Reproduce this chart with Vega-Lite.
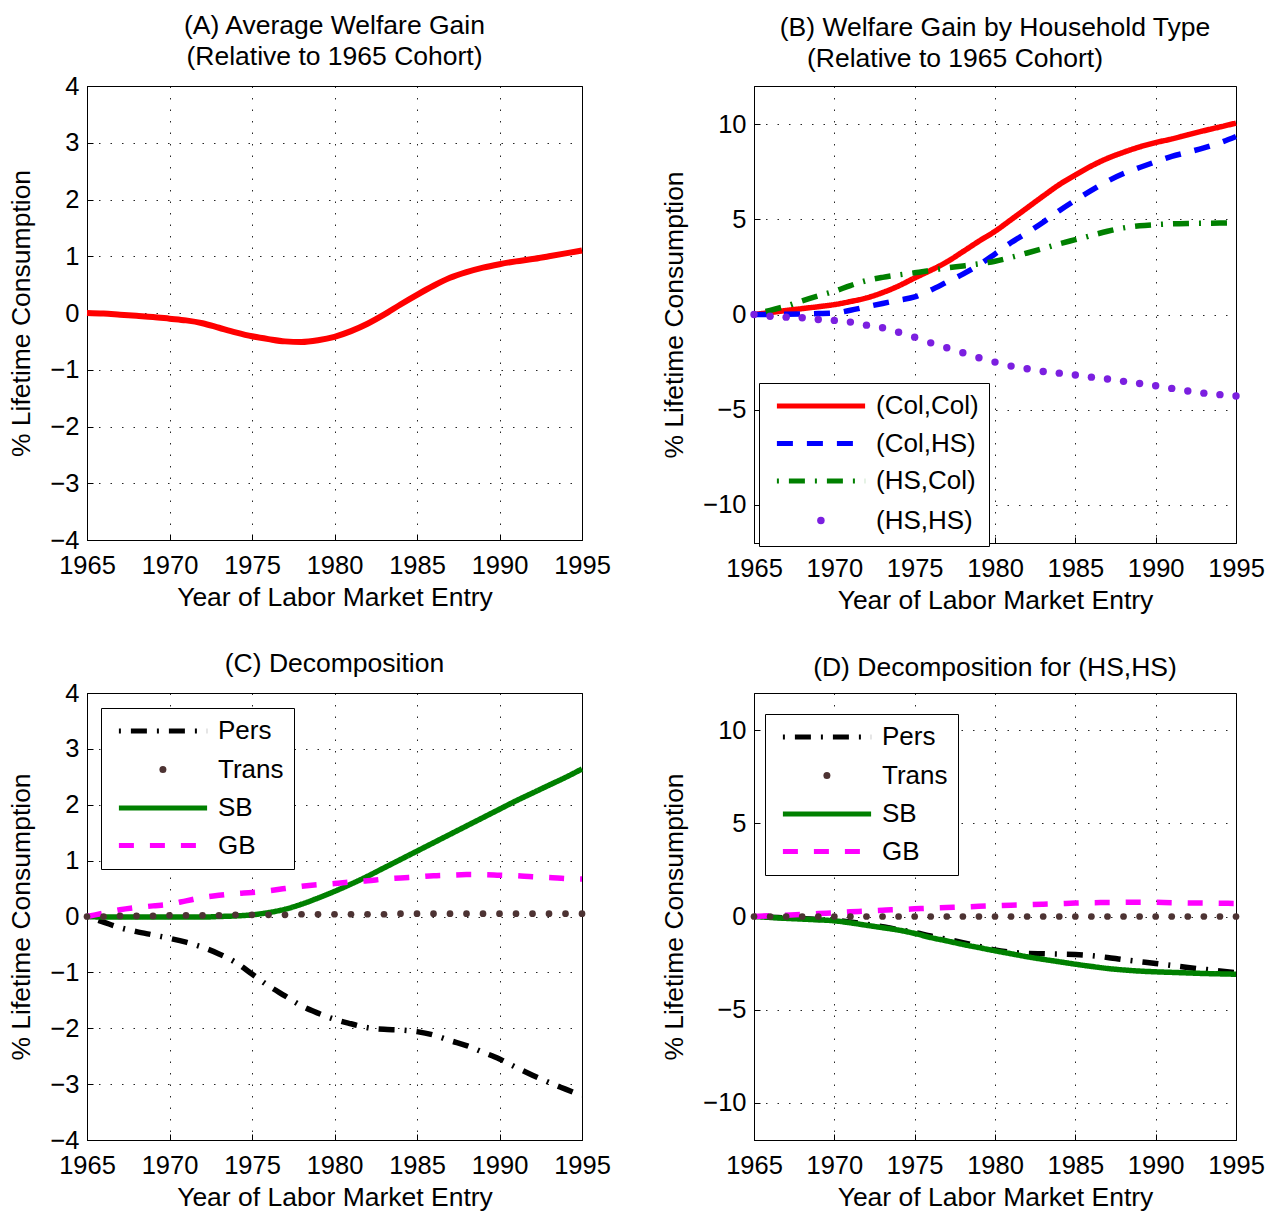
{
"$schema": "https://vega.github.io/schema/vega-lite/v6.json",
"padding": {"left": 8, "top": 12, "right": 4, "bottom": 4},
"background": "white",
"config": {
 "font": "Liberation Sans",
 "view": {"stroke": "black", "strokeWidth": 1},
 "axis": {"labelFont": "Liberation Sans", "labelFontSize": 25.5, "labelColor": "black", "titleFont": "Liberation Sans", "titleFontSize": 26.5, "titleFontWeight": "normal", "titleColor": "black", "domainColor": "black", "tickColor": "black", "tickSize": -6, "labelPadding": 14, "grid": true, "gridColor": "black", "gridDash": [1.5, 10], "gridOpacity": 0.85, "labelFlush": false, "labelOverlap": false},
 "axisX": {"titlePadding": 6, "labelPadding": 19},
 "axisY": {"titlePadding": 14},
 "title": {"font": "Liberation Sans", "fontSize": 26.5, "fontWeight": "normal", "color": "black", "anchor": "middle", "frame": "group", "offset": 4, "lineHeight": 31},
 "legend": {"labelFont": "Liberation Sans", "labelFontSize": 26, "labelColor": "black", "strokeColor": "black", "fillColor": "white", "padding": 10, "cornerRadius": 0, "symbolSize": 324, "symbolStrokeWidth": 5, "rowPadding": 11.5, "labelOffset": 42, "symbolOffset": 39, "labelLimit": 300}
},
"resolve": {"scale": {"color": "independent", "strokeDash": "independent"}, "legend": {"color": "independent", "strokeDash": "independent"}},
"bounds": "flush",
"columns": 2,
"spacing": {"row": 150, "column": 172},
"datasets": {
 "a": [
  {"x":1965,"v":0},{"x":1966,"v":-0.01},{"x":1967,"v":-0.03},{"x":1968,"v":-0.05},{"x":1969,"v":-0.07},{"x":1970,"v":-0.10},{"x":1971,"v":-0.13},{"x":1972,"v":-0.18},{"x":1973,"v":-0.26},{"x":1974,"v":-0.34},{"x":1975,"v":-0.41},{"x":1976,"v":-0.46},{"x":1977,"v":-0.50},{"x":1978,"v":-0.51},{"x":1979,"v":-0.48},{"x":1980,"v":-0.42},{"x":1981,"v":-0.32},{"x":1982,"v":-0.19},{"x":1983,"v":-0.03},{"x":1984,"v":0.15},{"x":1985,"v":0.32},{"x":1986,"v":0.48},{"x":1987,"v":0.62},{"x":1988,"v":0.72},{"x":1989,"v":0.80},{"x":1990,"v":0.86},{"x":1991,"v":0.91},{"x":1992,"v":0.95},{"x":1993,"v":1.00},{"x":1994,"v":1.05},{"x":1995,"v":1.10}
 ],
 "b": [
  {"x":1965,"s":"(Col,Col)","v":0},{"x":1966,"s":"(Col,Col)","v":0.10},{"x":1967,"s":"(Col,Col)","v":0.21},{"x":1968,"s":"(Col,Col)","v":0.31},{"x":1969,"s":"(Col,Col)","v":0.41},{"x":1970,"s":"(Col,Col)","v":0.52},{"x":1971,"s":"(Col,Col)","v":0.68},{"x":1972,"s":"(Col,Col)","v":0.87},{"x":1973,"s":"(Col,Col)","v":1.15},{"x":1974,"s":"(Col,Col)","v":1.50},{"x":1975,"s":"(Col,Col)","v":1.92},{"x":1976,"s":"(Col,Col)","v":2.32},{"x":1977,"s":"(Col,Col)","v":2.76},{"x":1978,"s":"(Col,Col)","v":3.30},{"x":1979,"s":"(Col,Col)","v":3.85},{"x":1980,"s":"(Col,Col)","v":4.37},{"x":1981,"s":"(Col,Col)","v":4.98},{"x":1982,"s":"(Col,Col)","v":5.60},{"x":1983,"s":"(Col,Col)","v":6.22},{"x":1984,"s":"(Col,Col)","v":6.82},{"x":1985,"s":"(Col,Col)","v":7.33},{"x":1986,"s":"(Col,Col)","v":7.80},{"x":1987,"s":"(Col,Col)","v":8.20},{"x":1988,"s":"(Col,Col)","v":8.52},{"x":1989,"s":"(Col,Col)","v":8.80},{"x":1990,"s":"(Col,Col)","v":9.03},{"x":1991,"s":"(Col,Col)","v":9.22},{"x":1992,"s":"(Col,Col)","v":9.44},{"x":1993,"s":"(Col,Col)","v":9.65},{"x":1994,"s":"(Col,Col)","v":9.85},{"x":1995,"s":"(Col,Col)","v":10.05},
  {"x":1965,"s":"(Col,HS)","v":0},{"x":1966,"s":"(Col,HS)","v":0},{"x":1967,"s":"(Col,HS)","v":0.01},{"x":1968,"s":"(Col,HS)","v":0.03},{"x":1969,"s":"(Col,HS)","v":0.05},{"x":1970,"s":"(Col,HS)","v":0.08},{"x":1971,"s":"(Col,HS)","v":0.22},{"x":1972,"s":"(Col,HS)","v":0.40},{"x":1973,"s":"(Col,HS)","v":0.58},{"x":1974,"s":"(Col,HS)","v":0.75},{"x":1975,"s":"(Col,HS)","v":0.92},{"x":1976,"s":"(Col,HS)","v":1.28},{"x":1977,"s":"(Col,HS)","v":1.70},{"x":1978,"s":"(Col,HS)","v":2.12},{"x":1979,"s":"(Col,HS)","v":2.60},{"x":1980,"s":"(Col,HS)","v":3.18},{"x":1981,"s":"(Col,HS)","v":3.78},{"x":1982,"s":"(Col,HS)","v":4.30},{"x":1983,"s":"(Col,HS)","v":4.85},{"x":1984,"s":"(Col,HS)","v":5.45},{"x":1985,"s":"(Col,HS)","v":6.00},{"x":1986,"s":"(Col,HS)","v":6.52},{"x":1987,"s":"(Col,HS)","v":7.00},{"x":1988,"s":"(Col,HS)","v":7.40},{"x":1989,"s":"(Col,HS)","v":7.72},{"x":1990,"s":"(Col,HS)","v":8.02},{"x":1991,"s":"(Col,HS)","v":8.30},{"x":1992,"s":"(Col,HS)","v":8.52},{"x":1993,"s":"(Col,HS)","v":8.75},{"x":1994,"s":"(Col,HS)","v":9.02},{"x":1995,"s":"(Col,HS)","v":9.35},
  {"x":1965,"s":"(HS,Col)","v":0},{"x":1966,"s":"(HS,Col)","v":0.22},{"x":1967,"s":"(HS,Col)","v":0.44},{"x":1968,"s":"(HS,Col)","v":0.72},{"x":1969,"s":"(HS,Col)","v":0.98},{"x":1970,"s":"(HS,Col)","v":1.22},{"x":1971,"s":"(HS,Col)","v":1.52},{"x":1972,"s":"(HS,Col)","v":1.78},{"x":1973,"s":"(HS,Col)","v":1.95},{"x":1974,"s":"(HS,Col)","v":2.08},{"x":1975,"s":"(HS,Col)","v":2.19},{"x":1976,"s":"(HS,Col)","v":2.32},{"x":1977,"s":"(HS,Col)","v":2.45},{"x":1978,"s":"(HS,Col)","v":2.55},{"x":1979,"s":"(HS,Col)","v":2.66},{"x":1980,"s":"(HS,Col)","v":2.80},{"x":1981,"s":"(HS,Col)","v":3.00},{"x":1982,"s":"(HS,Col)","v":3.23},{"x":1983,"s":"(HS,Col)","v":3.47},{"x":1984,"s":"(HS,Col)","v":3.71},{"x":1985,"s":"(HS,Col)","v":3.93},{"x":1986,"s":"(HS,Col)","v":4.15},{"x":1987,"s":"(HS,Col)","v":4.37},{"x":1988,"s":"(HS,Col)","v":4.55},{"x":1989,"s":"(HS,Col)","v":4.66},{"x":1990,"s":"(HS,Col)","v":4.72},{"x":1991,"s":"(HS,Col)","v":4.76},{"x":1992,"s":"(HS,Col)","v":4.78},{"x":1993,"s":"(HS,Col)","v":4.79},{"x":1994,"s":"(HS,Col)","v":4.80},{"x":1995,"s":"(HS,Col)","v":4.81},
  {"x":1965,"s":"(HS,HS)","v":0},{"x":1966,"s":"(HS,HS)","v":-0.09},{"x":1967,"s":"(HS,HS)","v":-0.14},{"x":1968,"s":"(HS,HS)","v":-0.17},{"x":1969,"s":"(HS,HS)","v":-0.26},{"x":1970,"s":"(HS,HS)","v":-0.31},{"x":1971,"s":"(HS,HS)","v":-0.40},{"x":1972,"s":"(HS,HS)","v":-0.56},{"x":1973,"s":"(HS,HS)","v":-0.70},{"x":1974,"s":"(HS,HS)","v":-0.93},{"x":1975,"s":"(HS,HS)","v":-1.19},{"x":1976,"s":"(HS,HS)","v":-1.49},{"x":1977,"s":"(HS,HS)","v":-1.75},{"x":1978,"s":"(HS,HS)","v":-2.01},{"x":1979,"s":"(HS,HS)","v":-2.27},{"x":1980,"s":"(HS,HS)","v":-2.50},{"x":1981,"s":"(HS,HS)","v":-2.71},{"x":1982,"s":"(HS,HS)","v":-2.85},{"x":1983,"s":"(HS,HS)","v":-2.99},{"x":1984,"s":"(HS,HS)","v":-3.08},{"x":1985,"s":"(HS,HS)","v":-3.18},{"x":1986,"s":"(HS,HS)","v":-3.29},{"x":1987,"s":"(HS,HS)","v":-3.39},{"x":1988,"s":"(HS,HS)","v":-3.51},{"x":1989,"s":"(HS,HS)","v":-3.62},{"x":1990,"s":"(HS,HS)","v":-3.74},{"x":1991,"s":"(HS,HS)","v":-3.88},{"x":1992,"s":"(HS,HS)","v":-4.02},{"x":1993,"s":"(HS,HS)","v":-4.13},{"x":1994,"s":"(HS,HS)","v":-4.21},{"x":1995,"s":"(HS,HS)","v":-4.28}
 ],
 "c": [
  {"x":1965,"s":"Pers","v":0},{"x":1966,"s":"Pers","v":-0.10},{"x":1967,"s":"Pers","v":-0.20},{"x":1968,"s":"Pers","v":-0.27},{"x":1969,"s":"Pers","v":-0.33},{"x":1970,"s":"Pers","v":-0.39},{"x":1971,"s":"Pers","v":-0.46},{"x":1972,"s":"Pers","v":-0.55},{"x":1973,"s":"Pers","v":-0.67},{"x":1974,"s":"Pers","v":-0.82},{"x":1975,"s":"Pers","v":-1.03},{"x":1976,"s":"Pers","v":-1.24},{"x":1977,"s":"Pers","v":-1.42},{"x":1978,"s":"Pers","v":-1.60},{"x":1979,"s":"Pers","v":-1.73},{"x":1980,"s":"Pers","v":-1.84},{"x":1981,"s":"Pers","v":-1.92},{"x":1982,"s":"Pers","v":-1.99},{"x":1983,"s":"Pers","v":-2.02},{"x":1984,"s":"Pers","v":-2.03},{"x":1985,"s":"Pers","v":-2.06},{"x":1986,"s":"Pers","v":-2.12},{"x":1987,"s":"Pers","v":-2.22},{"x":1988,"s":"Pers","v":-2.31},{"x":1989,"s":"Pers","v":-2.43},{"x":1990,"s":"Pers","v":-2.55},{"x":1991,"s":"Pers","v":-2.70},{"x":1992,"s":"Pers","v":-2.84},{"x":1993,"s":"Pers","v":-2.97},{"x":1994,"s":"Pers","v":-3.09},{"x":1995,"s":"Pers","v":-3.21},
  {"x":1965,"s":"Trans","v":0},{"x":1966,"s":"Trans","v":0},{"x":1967,"s":"Trans","v":0.01},{"x":1968,"s":"Trans","v":0.01},{"x":1969,"s":"Trans","v":0.01},{"x":1970,"s":"Trans","v":0.02},{"x":1971,"s":"Trans","v":0.02},{"x":1972,"s":"Trans","v":0.02},{"x":1973,"s":"Trans","v":0.02},{"x":1974,"s":"Trans","v":0.03},{"x":1975,"s":"Trans","v":0.03},{"x":1976,"s":"Trans","v":0.03},{"x":1977,"s":"Trans","v":0.03},{"x":1978,"s":"Trans","v":0.04},{"x":1979,"s":"Trans","v":0.04},{"x":1980,"s":"Trans","v":0.04},{"x":1981,"s":"Trans","v":0.04},{"x":1982,"s":"Trans","v":0.04},{"x":1983,"s":"Trans","v":0.04},{"x":1984,"s":"Trans","v":0.05},{"x":1985,"s":"Trans","v":0.05},{"x":1986,"s":"Trans","v":0.05},{"x":1987,"s":"Trans","v":0.05},{"x":1988,"s":"Trans","v":0.05},{"x":1989,"s":"Trans","v":0.05},{"x":1990,"s":"Trans","v":0.05},{"x":1991,"s":"Trans","v":0.05},{"x":1992,"s":"Trans","v":0.05},{"x":1993,"s":"Trans","v":0.05},{"x":1994,"s":"Trans","v":0.05},{"x":1995,"s":"Trans","v":0.05},
  {"x":1965,"s":"SB","v":0},{"x":1966,"s":"SB","v":-0.01},{"x":1967,"s":"SB","v":-0.01},{"x":1968,"s":"SB","v":-0.01},{"x":1969,"s":"SB","v":-0.01},{"x":1970,"s":"SB","v":-0.01},{"x":1971,"s":"SB","v":-0.01},{"x":1972,"s":"SB","v":-0.01},{"x":1973,"s":"SB","v":0},{"x":1974,"s":"SB","v":0.01},{"x":1975,"s":"SB","v":0.03},{"x":1976,"s":"SB","v":0.07},{"x":1977,"s":"SB","v":0.13},{"x":1978,"s":"SB","v":0.22},{"x":1979,"s":"SB","v":0.33},{"x":1980,"s":"SB","v":0.45},{"x":1981,"s":"SB","v":0.58},{"x":1982,"s":"SB","v":0.72},{"x":1983,"s":"SB","v":0.87},{"x":1984,"s":"SB","v":1.02},{"x":1985,"s":"SB","v":1.17},{"x":1986,"s":"SB","v":1.32},{"x":1987,"s":"SB","v":1.47},{"x":1988,"s":"SB","v":1.62},{"x":1989,"s":"SB","v":1.77},{"x":1990,"s":"SB","v":1.92},{"x":1991,"s":"SB","v":2.07},{"x":1992,"s":"SB","v":2.21},{"x":1993,"s":"SB","v":2.35},{"x":1994,"s":"SB","v":2.49},{"x":1995,"s":"SB","v":2.64},
  {"x":1965,"s":"GB","v":0},{"x":1966,"s":"GB","v":0.06},{"x":1967,"s":"GB","v":0.12},{"x":1968,"s":"GB","v":0.16},{"x":1969,"s":"GB","v":0.19},{"x":1970,"s":"GB","v":0.22},{"x":1971,"s":"GB","v":0.28},{"x":1972,"s":"GB","v":0.34},{"x":1973,"s":"GB","v":0.38},{"x":1974,"s":"GB","v":0.41},{"x":1975,"s":"GB","v":0.43},{"x":1976,"s":"GB","v":0.46},{"x":1977,"s":"GB","v":0.50},{"x":1978,"s":"GB","v":0.54},{"x":1979,"s":"GB","v":0.57},{"x":1980,"s":"GB","v":0.59},{"x":1981,"s":"GB","v":0.62},{"x":1982,"s":"GB","v":0.64},{"x":1983,"s":"GB","v":0.67},{"x":1984,"s":"GB","v":0.69},{"x":1985,"s":"GB","v":0.71},{"x":1986,"s":"GB","v":0.73},{"x":1987,"s":"GB","v":0.74},{"x":1988,"s":"GB","v":0.75},{"x":1989,"s":"GB","v":0.75},{"x":1990,"s":"GB","v":0.74},{"x":1991,"s":"GB","v":0.73},{"x":1992,"s":"GB","v":0.71},{"x":1993,"s":"GB","v":0.70},{"x":1994,"s":"GB","v":0.68},{"x":1995,"s":"GB","v":0.67}
 ],
 "d": [
  {"x":1965,"s":"Pers","v":0},{"x":1966,"s":"Pers","v":-0.04},{"x":1967,"s":"Pers","v":-0.08},{"x":1968,"s":"Pers","v":-0.12},{"x":1969,"s":"Pers","v":-0.16},{"x":1970,"s":"Pers","v":-0.20},{"x":1971,"s":"Pers","v":-0.30},{"x":1972,"s":"Pers","v":-0.42},{"x":1973,"s":"Pers","v":-0.55},{"x":1974,"s":"Pers","v":-0.70},{"x":1975,"s":"Pers","v":-0.85},{"x":1976,"s":"Pers","v":-1.05},{"x":1977,"s":"Pers","v":-1.22},{"x":1978,"s":"Pers","v":-1.40},{"x":1979,"s":"Pers","v":-1.60},{"x":1980,"s":"Pers","v":-1.80},{"x":1981,"s":"Pers","v":-1.92},{"x":1982,"s":"Pers","v":-1.98},{"x":1983,"s":"Pers","v":-2.00},{"x":1984,"s":"Pers","v":-2.02},{"x":1985,"s":"Pers","v":-2.04},{"x":1986,"s":"Pers","v":-2.10},{"x":1987,"s":"Pers","v":-2.20},{"x":1988,"s":"Pers","v":-2.32},{"x":1989,"s":"Pers","v":-2.42},{"x":1990,"s":"Pers","v":-2.52},{"x":1991,"s":"Pers","v":-2.63},{"x":1992,"s":"Pers","v":-2.74},{"x":1993,"s":"Pers","v":-2.83},{"x":1994,"s":"Pers","v":-2.92},{"x":1995,"s":"Pers","v":-3.02},
  {"x":1965,"s":"Trans","v":0},{"x":1966,"s":"Trans","v":0},{"x":1967,"s":"Trans","v":0},{"x":1968,"s":"Trans","v":0},{"x":1969,"s":"Trans","v":0},{"x":1970,"s":"Trans","v":0},{"x":1971,"s":"Trans","v":0},{"x":1972,"s":"Trans","v":0},{"x":1973,"s":"Trans","v":0},{"x":1974,"s":"Trans","v":0},{"x":1975,"s":"Trans","v":0},{"x":1976,"s":"Trans","v":0},{"x":1977,"s":"Trans","v":0},{"x":1978,"s":"Trans","v":0},{"x":1979,"s":"Trans","v":0},{"x":1980,"s":"Trans","v":0},{"x":1981,"s":"Trans","v":0},{"x":1982,"s":"Trans","v":0},{"x":1983,"s":"Trans","v":0},{"x":1984,"s":"Trans","v":0},{"x":1985,"s":"Trans","v":0},{"x":1986,"s":"Trans","v":0},{"x":1987,"s":"Trans","v":0},{"x":1988,"s":"Trans","v":0},{"x":1989,"s":"Trans","v":0},{"x":1990,"s":"Trans","v":0},{"x":1991,"s":"Trans","v":0},{"x":1992,"s":"Trans","v":0},{"x":1993,"s":"Trans","v":0},{"x":1994,"s":"Trans","v":0},{"x":1995,"s":"Trans","v":0},
  {"x":1965,"s":"SB","v":0},{"x":1966,"s":"SB","v":-0.05},{"x":1967,"s":"SB","v":-0.10},{"x":1968,"s":"SB","v":-0.14},{"x":1969,"s":"SB","v":-0.18},{"x":1970,"s":"SB","v":-0.23},{"x":1971,"s":"SB","v":-0.34},{"x":1972,"s":"SB","v":-0.47},{"x":1973,"s":"SB","v":-0.60},{"x":1974,"s":"SB","v":-0.73},{"x":1975,"s":"SB","v":-0.91},{"x":1976,"s":"SB","v":-1.13},{"x":1977,"s":"SB","v":-1.31},{"x":1978,"s":"SB","v":-1.50},{"x":1979,"s":"SB","v":-1.67},{"x":1980,"s":"SB","v":-1.84},{"x":1981,"s":"SB","v":-2.00},{"x":1982,"s":"SB","v":-2.16},{"x":1983,"s":"SB","v":-2.30},{"x":1984,"s":"SB","v":-2.43},{"x":1985,"s":"SB","v":-2.56},{"x":1986,"s":"SB","v":-2.68},{"x":1987,"s":"SB","v":-2.79},{"x":1988,"s":"SB","v":-2.87},{"x":1989,"s":"SB","v":-2.93},{"x":1990,"s":"SB","v":-2.97},{"x":1991,"s":"SB","v":-3.00},{"x":1992,"s":"SB","v":-3.03},{"x":1993,"s":"SB","v":-3.06},{"x":1994,"s":"SB","v":-3.08},{"x":1995,"s":"SB","v":-3.10},
  {"x":1965,"s":"GB","v":0},{"x":1966,"s":"GB","v":0.04},{"x":1967,"s":"GB","v":0.07},{"x":1968,"s":"GB","v":0.11},{"x":1969,"s":"GB","v":0.16},{"x":1970,"s":"GB","v":0.20},{"x":1971,"s":"GB","v":0.25},{"x":1972,"s":"GB","v":0.29},{"x":1973,"s":"GB","v":0.34},{"x":1974,"s":"GB","v":0.37},{"x":1975,"s":"GB","v":0.41},{"x":1976,"s":"GB","v":0.45},{"x":1977,"s":"GB","v":0.48},{"x":1978,"s":"GB","v":0.51},{"x":1979,"s":"GB","v":0.55},{"x":1980,"s":"GB","v":0.58},{"x":1981,"s":"GB","v":0.61},{"x":1982,"s":"GB","v":0.63},{"x":1983,"s":"GB","v":0.66},{"x":1984,"s":"GB","v":0.69},{"x":1985,"s":"GB","v":0.72},{"x":1986,"s":"GB","v":0.74},{"x":1987,"s":"GB","v":0.75},{"x":1988,"s":"GB","v":0.76},{"x":1989,"s":"GB","v":0.77},{"x":1990,"s":"GB","v":0.76},{"x":1991,"s":"GB","v":0.74},{"x":1992,"s":"GB","v":0.73},{"x":1993,"s":"GB","v":0.72},{"x":1994,"s":"GB","v":0.71},{"x":1995,"s":"GB","v":0.70}
 ]
},
"concat": [
 {
  "width": 495, "height": 454,
  "title": {"text": ["(A) Average Welfare Gain", " (Relative to 1965 Cohort)"]},
  "data": {"name": "a"},
  "mark": {"type": "line", "color": "#ff0000", "strokeWidth": 6, "interpolate": "monotone"},
  "encoding": {
   "x": {"field": "x", "type": "quantitative", "scale": {"domain": [1965, 1995], "nice": false, "zero": false}, "axis": {"values": [1965, 1970, 1975, 1980, 1985, 1990, 1995], "format": "d", "title": "Year of Labor Market Entry"}},
   "y": {"field": "v", "type": "quantitative", "scale": {"domain": [-4, 4], "nice": false}, "axis": {"values": [-4, -3, -2, -1, 0, 1, 2, 3, 4], "title": "% Lifetime Consumption"}}
  }
 },
 {
  "width": 482, "height": 457,
  "title": {"text": ["(B) Welfare Gain by Household Type", "(Relative to 1965 Cohort)\u2800\u2800\u2800\u2800"], "offset": 14},
  "data": {"name": "b"},
  "encoding": {
   "x": {"field": "x", "type": "quantitative", "scale": {"domain": [1965, 1995], "nice": false, "zero": false}, "axis": {"values": [1965, 1970, 1975, 1980, 1985, 1990, 1995], "format": "d", "title": "Year of Labor Market Entry"}},
   "y": {"field": "v", "type": "quantitative", "scale": {"domain": [-12, 12], "nice": false}, "axis": {"values": [-10, -5, 0, 5, 10], "title": "% Lifetime Consumption"}}
  },
  "layer": [
   {
    "transform": [{"filter": "datum.s !== '(HS,HS)'"}],
    "mark": {"type": "line", "strokeWidth": 5.5, "interpolate": "monotone"},
    "encoding": {
     "color": {"field": "s", "type": "nominal", "scale": {"domain": ["(Col,Col)", "(Col,HS)", "(HS,Col)", "(HS,HS)"], "range": ["#ff0000", "#0000ff", "#008000", "#7b1fe0"]},
      "legend": {"title": null, "orient": "none", "legendX": 5, "legendY": 297, "symbolType": "M-4.9,0H4.9", "encode": {"symbols": {"update": {"strokeDashOffset": {"signal": "(datum && datum.value === '(HS,HS)') ? -44 : 0"}, "strokeCap": {"signal": "(datum && datum.value === '(HS,HS)') ? 'round' : 'butt'"}, "strokeWidth": {"signal": "((datum && datum.value === '(HS,HS)') ? 7.5 : 5)"}}}}}},
     "strokeDash": {"field": "s", "type": "nominal", "scale": {"domain": ["(Col,Col)", "(Col,HS)", "(HS,Col)", "(HS,HS)"], "range": [[1, 0], [16, 14], [2, 10, 16, 10], [0.01, 300]]},
      "legend": {"title": null, "orient": "none", "legendX": 5, "legendY": 297, "symbolType": "M-4.9,0H4.9", "encode": {"symbols": {"update": {"strokeDashOffset": {"signal": "(datum && datum.value === '(HS,HS)') ? -44 : 0"}, "strokeCap": {"signal": "(datum && datum.value === '(HS,HS)') ? 'round' : 'butt'"}, "strokeWidth": {"signal": "((datum && datum.value === '(HS,HS)') ? 7.5 : 5)"}}}}}}
    }
   },
   {
    "transform": [{"filter": "datum.s === '(HS,HS)'"}],
    "mark": {"type": "point", "filled": true, "size": 55, "opacity": 1},
    "encoding": {
     "color": {"field": "s", "type": "nominal", "scale": {"domain": ["(Col,Col)", "(Col,HS)", "(HS,Col)", "(HS,HS)"], "range": ["#ff0000", "#0000ff", "#008000", "#7b1fe0"]},
      "legend": {"title": null, "orient": "none", "legendX": 5, "legendY": 297, "symbolType": "M-4.9,0H4.9", "encode": {"symbols": {"update": {"strokeDashOffset": {"signal": "(datum && datum.value === '(HS,HS)') ? -44 : 0"}, "strokeCap": {"signal": "(datum && datum.value === '(HS,HS)') ? 'round' : 'butt'"}, "strokeWidth": {"signal": "((datum && datum.value === '(HS,HS)') ? 7.5 : 5)"}}}}}}
    }
   }
  ]
 },
 {
  "width": 495, "height": 447,
  "title": {"text": "(C) Decomposition"},
  "data": {"name": "c"},
  "encoding": {
   "x": {"field": "x", "type": "quantitative", "scale": {"domain": [1965, 1995], "nice": false, "zero": false}, "axis": {"values": [1965, 1970, 1975, 1980, 1985, 1990, 1995], "format": "d", "title": "Year of Labor Market Entry"}},
   "y": {"field": "v", "type": "quantitative", "scale": {"domain": [-4, 4], "nice": false}, "axis": {"values": [-4, -3, -2, -1, 0, 1, 2, 3, 4], "title": "% Lifetime Consumption"}}
  },
  "layer": [
   {
    "transform": [{"filter": "datum.s !== 'Trans'"}],
    "mark": {"type": "line", "strokeWidth": 5.5, "interpolate": "monotone"},
    "encoding": {
     "color": {"field": "s", "type": "nominal", "scale": {"domain": ["Pers", "Trans", "SB", "GB"], "range": ["#000000", "#4d3333", "#008000", "#ff00ff"]},
      "legend": {"title": null, "orient": "none", "legendX": 14, "legendY": 15, "symbolType": "M-4.9,0H4.9", "encode": {"symbols": {"update": {"strokeDashOffset": {"signal": "(datum && datum.value === 'Trans') ? -44 : 0"}, "strokeCap": {"signal": "(datum && datum.value === 'Trans') ? 'round' : 'butt'"}, "strokeWidth": {"signal": "((datum && datum.value === 'Trans') ? 7 : 5)"}}}}}},
     "strokeDash": {"field": "s", "type": "nominal", "scale": {"domain": ["Pers", "Trans", "SB", "GB"], "range": [[2, 10, 16, 10], [0.01, 300], [1, 0], [15, 16]]},
      "legend": {"title": null, "orient": "none", "legendX": 14, "legendY": 15, "symbolType": "M-4.9,0H4.9", "encode": {"symbols": {"update": {"strokeDashOffset": {"signal": "(datum && datum.value === 'Trans') ? -44 : 0"}, "strokeCap": {"signal": "(datum && datum.value === 'Trans') ? 'round' : 'butt'"}, "strokeWidth": {"signal": "((datum && datum.value === 'Trans') ? 7 : 5)"}}}}}}
    }
   },
   {
    "transform": [{"filter": "datum.s === 'Trans'"}],
    "mark": {"type": "point", "filled": true, "size": 45, "opacity": 1},
    "encoding": {
     "color": {"field": "s", "type": "nominal", "scale": {"domain": ["Pers", "Trans", "SB", "GB"], "range": ["#000000", "#4d3333", "#008000", "#ff00ff"]},
      "legend": {"title": null, "orient": "none", "legendX": 14, "legendY": 15, "symbolType": "M-4.9,0H4.9", "encode": {"symbols": {"update": {"strokeDashOffset": {"signal": "(datum && datum.value === 'Trans') ? -44 : 0"}, "strokeCap": {"signal": "(datum && datum.value === 'Trans') ? 'round' : 'butt'"}, "strokeWidth": {"signal": "((datum && datum.value === 'Trans') ? 7 : 5)"}}}}}}
    }
   }
  ]
 },
 {
  "width": 482, "height": 447,
  "title": {"text": "(D) Decomposition for (HS,HS)", "offset": 12},
  "data": {"name": "d"},
  "encoding": {
   "x": {"field": "x", "type": "quantitative", "scale": {"domain": [1965, 1995], "nice": false, "zero": false}, "axis": {"values": [1965, 1970, 1975, 1980, 1985, 1990, 1995], "format": "d", "title": "Year of Labor Market Entry"}},
   "y": {"field": "v", "type": "quantitative", "scale": {"domain": [-12, 12], "nice": false}, "axis": {"values": [-10, -5, 0, 5, 10], "title": "% Lifetime Consumption"}}
  },
  "layer": [
   {
    "transform": [{"filter": "datum.s !== 'Trans'"}],
    "mark": {"type": "line", "strokeWidth": 5.5, "interpolate": "monotone"},
    "encoding": {
     "color": {"field": "s", "type": "nominal", "scale": {"domain": ["Pers", "Trans", "SB", "GB"], "range": ["#000000", "#4d3333", "#008000", "#ff00ff"]},
      "legend": {"title": null, "orient": "none", "legendX": 11, "legendY": 21, "symbolType": "M-4.9,0H4.9", "encode": {"symbols": {"update": {"strokeDashOffset": {"signal": "(datum && datum.value === 'Trans') ? -44 : 0"}, "strokeCap": {"signal": "(datum && datum.value === 'Trans') ? 'round' : 'butt'"}, "strokeWidth": {"signal": "((datum && datum.value === 'Trans') ? 7 : 5)"}}}}}},
     "strokeDash": {"field": "s", "type": "nominal", "scale": {"domain": ["Pers", "Trans", "SB", "GB"], "range": [[2, 10, 16, 10], [0.01, 300], [1, 0], [15, 16]]},
      "legend": {"title": null, "orient": "none", "legendX": 11, "legendY": 21, "symbolType": "M-4.9,0H4.9", "encode": {"symbols": {"update": {"strokeDashOffset": {"signal": "(datum && datum.value === 'Trans') ? -44 : 0"}, "strokeCap": {"signal": "(datum && datum.value === 'Trans') ? 'round' : 'butt'"}, "strokeWidth": {"signal": "((datum && datum.value === 'Trans') ? 7 : 5)"}}}}}}
    }
   },
   {
    "transform": [{"filter": "datum.s === 'Trans'"}],
    "mark": {"type": "point", "filled": true, "size": 45, "opacity": 1},
    "encoding": {
     "color": {"field": "s", "type": "nominal", "scale": {"domain": ["Pers", "Trans", "SB", "GB"], "range": ["#000000", "#4d3333", "#008000", "#ff00ff"]},
      "legend": {"title": null, "orient": "none", "legendX": 11, "legendY": 21, "symbolType": "M-4.9,0H4.9", "encode": {"symbols": {"update": {"strokeDashOffset": {"signal": "(datum && datum.value === 'Trans') ? -44 : 0"}, "strokeCap": {"signal": "(datum && datum.value === 'Trans') ? 'round' : 'butt'"}, "strokeWidth": {"signal": "((datum && datum.value === 'Trans') ? 7 : 5)"}}}}}}
    }
   }
  ]
 }
]
}
